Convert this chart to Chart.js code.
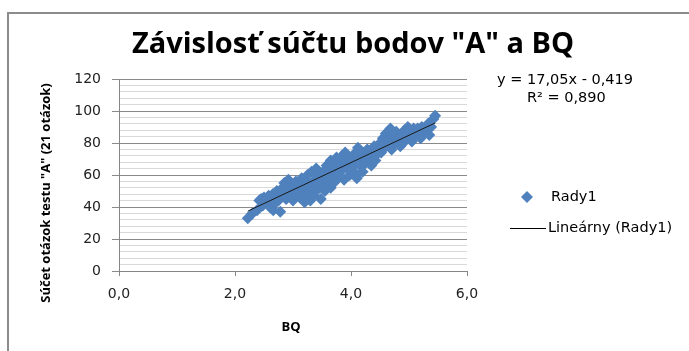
<!DOCTYPE html>
<html>
<head>
<meta charset="utf-8">
<script src="https://cdn.jsdelivr.net/npm/chart.js@4"></script>
<style>
  html, body { margin: 0; padding: 0; background: #fff; }
  #wrap { position: relative; width: 689px; height: 351px; }
</style>
</head>
<body>
<div id="wrap"><canvas id="bqChart" width="689" height="351"></canvas></div>
<script>
// BQ values (x) and sum of "A" test points (y)
const bqValues = [
  2.22, 2.30, 2.38, 2.42, 2.45, 2.48, 2.50, 2.52,
  2.55, 2.58, 2.60, 2.60, 2.62, 2.65, 2.66, 2.68, 2.70, 2.70, 2.72, 2.75, 2.78, 2.80,
  2.82, 2.85, 2.85, 2.88, 2.90, 2.90, 2.92, 2.95, 2.95, 2.98, 3.00, 3.00, 3.02, 3.05, 3.05, 3.08, 3.10, 3.10,
  3.12, 3.15, 3.15, 3.18, 3.20, 3.20, 3.22, 3.25, 3.25, 3.25, 3.28, 3.30, 3.30, 3.32, 3.35, 3.35, 3.38, 3.40, 3.40, 3.42, 3.45, 3.45, 3.45, 3.48, 3.50, 3.50,
  3.52, 3.55, 3.55, 3.55, 3.58, 3.60, 3.60, 3.60, 3.62, 3.65, 3.65, 3.65, 3.68, 3.70, 3.70, 3.70, 3.72, 3.75, 3.75, 3.78, 3.80, 3.80,
  3.82, 3.85, 3.85, 3.88, 3.90, 3.90, 3.92, 3.95, 3.95, 3.98, 4.00, 4.00,
  4.02, 4.05, 4.05, 4.08, 4.10, 4.10, 4.10, 4.12, 4.15, 4.15, 4.18, 4.20, 4.20, 4.20, 4.25, 4.25, 4.28, 4.30, 4.30, 4.35, 4.35, 4.38, 4.40, 4.42, 4.45, 4.45, 4.48,
  4.50, 4.50, 4.52, 4.55, 4.55, 4.58, 4.60, 4.60, 4.62, 4.65, 4.65, 4.68, 4.70, 4.70, 4.72, 4.75, 4.75, 4.78, 4.80, 4.85, 4.85, 4.88,
  4.90, 4.90, 4.92, 4.95, 4.95, 4.98, 5.00, 5.05, 5.05, 5.08, 5.10, 5.10, 5.15, 5.15, 5.20, 5.22, 5.25, 5.25, 5.30, 5.30, 5.33, 5.35, 5.38, 5.42, 5.45
];
const scoreValues = [
  33, 36, 38, 44, 45, 41, 46, 44,
  43, 47, 40, 44, 45, 48, 38, 42, 46, 43, 50, 44, 37, 48,
  52, 55, 49, 45, 50, 46, 57, 47, 51, 53, 44, 47, 50, 56, 52, 48, 54, 50,
  46, 58, 53, 51, 43, 50, 55, 60, 48, 56, 49, 53, 44, 62, 47, 55, 57, 64, 50, 52, 59, 54, 62, 45, 55, 60,
  62, 50, 58, 61, 66, 57, 63, 60, 53, 69, 52, 57, 60, 55, 67, 62, 64, 71, 63, 58, 67, 70,
  62, 72, 66, 57, 74, 67, 65, 69, 64, 60, 71, 66,
  63, 73, 69, 67, 60, 58, 72, 77, 70, 67, 65, 74, 62, 70, 68, 72, 76, 71, 68, 66, 72, 74, 78, 69, 73, 75, 77,
  80, 76, 74, 83, 78, 77, 86, 82, 79, 82, 80, 89, 76, 85, 84, 80, 83, 87, 82, 78, 82, 85,
  80, 84, 88, 83, 86, 90, 85, 81, 86, 89, 84, 86, 87, 89, 83, 90, 86, 88, 88, 90, 92, 85, 90, 95, 97
];

// linear trend line end points (y = 17,05x - 0,419)
const trendX = [2.22, 5.45];
const trendY = [37.4, 92.5];

const xTicks = [0, 2, 4, 6];
const yMajorTicks = [0, 20, 40, 60, 80, 100, 120];

const titleText = 'Závislosť súčtu bodov "A" a BQ';
const xTitle = 'BQ';
const yTitle = 'Súčet otázok testu "A" (21 otázok)';
const eqLine1 = 'y = 17,05x - 0,419';
const eqLine2 = 'R² = 0,890';
const seriesName = 'Rady1';
const trendName = 'Lineárny (Rady1)';

const BLUE = '#4f81bd';
const FONT = '"Open Sans", sans-serif';
const WIDE = '"DejaVu Sans", sans-serif';

const points = bqValues.map((x, i) => ({ x: x, y: scoreValues[i] }));
const trendPoints = trendX.map((x, i) => ({ x: x, y: trendY[i] }));

// frame, title, axis titles, equation and legend
const decorPlugin = {
  id: 'decor',
  afterDraw(chart) {
    const ctx = chart.ctx;
    ctx.save();

    // outer frame: only left and top edges are inside the picture
    ctx.strokeStyle = '#8c8c8c';
    ctx.lineWidth = 2;
    ctx.beginPath();
    ctx.moveTo(8, 351);
    ctx.lineTo(8, 13);
    ctx.lineTo(689, 13);
    ctx.stroke();

    ctx.fillStyle = '#000';
    ctx.textAlign = 'center';
    ctx.textBaseline = 'middle';
    ctx.font = 'bold 29px ' + FONT;
    ctx.fillText(titleText, 353, 45);

    ctx.font = 'bold 13px ' + FONT;
    ctx.fillText(xTitle, 291, 327);
    ctx.save();
    ctx.translate(46, 193);
    ctx.rotate(-Math.PI / 2);
    ctx.fillText(yTitle, 0, 0);
    ctx.restore();

    ctx.font = '14.5px ' + WIDE;
    ctx.textAlign = 'left';
    ctx.fillText(eqLine1, 497, 80);
    ctx.fillText(eqLine2, 527, 98);

    // legend
    ctx.fillStyle = BLUE;
    ctx.beginPath();
    ctx.moveTo(527, 191);
    ctx.lineTo(533, 197);
    ctx.lineTo(527, 203);
    ctx.lineTo(521, 197);
    ctx.closePath();
    ctx.fill();
    ctx.fillStyle = '#000';
    ctx.fillText(seriesName, 551, 197);

    ctx.strokeStyle = '#000';
    ctx.lineWidth = 1;
    ctx.beginPath();
    ctx.moveTo(510, 228.5);
    ctx.lineTo(546, 228.5);
    ctx.stroke();
    ctx.fillText(trendName, 548, 228);

    ctx.restore();
  }
};

new Chart(document.getElementById('bqChart'), {
  type: 'scatter',
  data: {
    datasets: [
      {
        label: seriesName,
        data: points,
        order: 2,
        pointStyle: 'rectRot',
        pointRadius: 6,
        pointHoverRadius: 6,
        backgroundColor: BLUE,
        borderColor: BLUE,
        borderWidth: 0
      },
      {
        label: trendName,
        type: 'line',
        data: trendPoints,
        order: 1,
        borderColor: '#1a1a1a',
        borderWidth: 1,
        pointRadius: 0,
        fill: false
      }
    ]
  },
  options: {
    responsive: false,
    animation: false,
    layout: { padding: { left: 0, right: 222, top: 79, bottom: 0 } },
    plugins: {
      legend: { display: false },
      title: { display: false },
      tooltip: { enabled: false }
    },
    scales: {
      x: {
        type: 'linear',
        min: 0,
        max: 6,
        afterFit: (s) => { s.height = 80; },
        afterBuildTicks: (s) => { s.ticks = xTicks.map(v => ({ value: v })); },
        border: { color: '#868686', width: 1 },
        grid: { drawOnChartArea: false, tickLength: 5, color: '#868686' },
        ticks: {
          padding: 10,
          color: '#222',
          font: { family: WIDE, size: 14 },
          callback: (v) => v.toFixed(1).replace('.', ',')
        }
      },
      y: {
        min: 0,
        max: 120,
        afterFit: (s) => { s.width = 119; },
        border: { color: '#868686', width: 1 },
        grid: {
          tickLength: 7,
          color: (c) => (c.tick.value % 20 === 0 ? '#8a8a8a' : '#d9d9d9'),
          tickColor: (c) => (c.tick.value % 20 === 0 ? '#8a8a8a' : 'rgba(0,0,0,0)')
        },
        ticks: {
          stepSize: 4,
          autoSkip: false,
          padding: 11,
          color: '#222',
          font: { family: WIDE, size: 14 },
          callback: (v) => (yMajorTicks.includes(v) ? String(v) : '')
        }
      }
    }
  },
  plugins: [decorPlugin]
});
</script>
</body>
</html>
